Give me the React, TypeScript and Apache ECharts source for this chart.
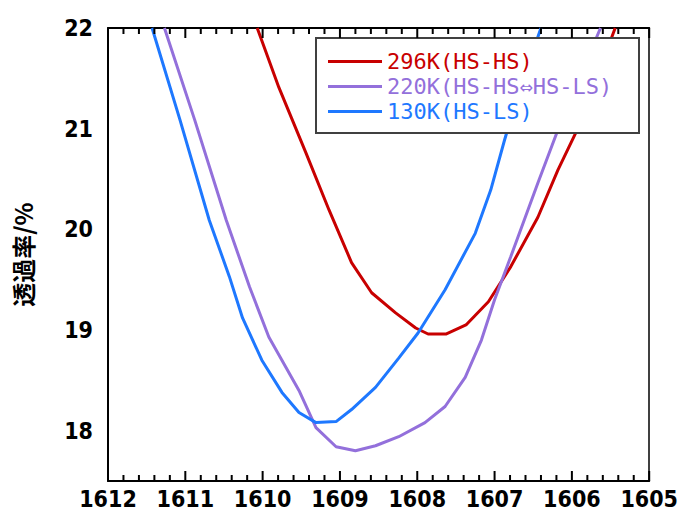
import React, { useEffect, useRef } from "react";
import * as echarts from "echarts";

const seriesNames = ["296K(HS-HS)", "220K(HS-HS⇔HS-LS)", "130K(HS-LS)"];
const seriesColors = ["#C80000", "#9370DB", "#1E78FF"];

const wn296 = [1610.07, 1609.79, 1609.44, 1609.14, 1608.85, 1608.59, 1608.28, 1608.02, 1607.86, 1607.63, 1607.37, 1607.08, 1606.79, 1606.44, 1606.18, 1605.93, 1605.44];
const tr296 = [22.0, 21.41, 20.76, 20.19, 19.67, 19.37, 19.17, 19.02, 18.96, 18.96, 19.05, 19.28, 19.63, 20.12, 20.59, 20.99, 22.0];

const wn220 = [1611.27, 1610.88, 1610.47, 1610.17, 1609.92, 1609.53, 1609.31, 1609.05, 1608.8, 1608.54, 1608.24, 1607.9, 1607.64, 1607.38, 1607.17, 1607.0, 1606.79, 1606.44, 1606.18, 1605.63];
const tr220 = [22.0, 21.09, 20.09, 19.43, 18.93, 18.4, 18.03, 17.84, 17.8, 17.85, 17.94, 18.08, 18.24, 18.53, 18.9, 19.3, 19.73, 20.46, 20.99, 22.0];

const wn130 = [1611.43, 1611.07, 1610.69, 1610.43, 1610.26, 1610.01, 1609.75, 1609.53, 1609.31, 1609.05, 1608.85, 1608.54, 1608.24, 1607.99, 1607.64, 1607.25, 1607.05, 1606.87, 1606.7, 1606.4];
const tr130 = [22.0, 21.09, 20.09, 19.53, 19.12, 18.7, 18.38, 18.18, 18.08, 18.09, 18.21, 18.43, 18.72, 18.97, 19.4, 19.96, 20.39, 20.89, 21.33, 22.0];

const xMin = 1605;
const xMax = 1612;
const yMin = 17.5;
const yMax = 22;
const yAxisName = "透過率/%";
const majorTicks = [1605, 1606, 1607, 1608, 1609, 1610, 1611, 1612];
const minorSteps = [0.2, 0.4, 0.6, 0.8];

const numFont = "'DejaVu Sans Condensed', 'Liberation Sans Narrow', sans-serif";
const legendFont = "'DejaVu Sans Mono', monospace";

export default function App() {
  const ref = useRef<HTMLDivElement>(null);
  useEffect(() => {
    if (!ref.current) return;
    const chart = echarts.init(ref.current, undefined, { renderer: "svg" });
    const pairs = [
      [wn296, tr296],
      [wn220, tr220],
      [wn130, tr130],
    ];
    const tickData: number[][] = [];
    majorTicks.forEach((m, i) => {
      tickData.push([m, 1]);
      if (i < majorTicks.length - 1) minorSteps.forEach((s) => tickData.push([m + s, 0]));
    });
    const xBase = {
      type: "value" as const,
      min: xMin,
      max: xMax,
      interval: 1,
      inverse: true,
      axisLine: { show: true, onZero: false, lineStyle: { color: "#000", width: 2 } },
      splitLine: { show: false },
      axisTick: { show: false },
    };
    chart.setOption({
      animation: false,
      backgroundColor: "#fff",
      grid: {
        left: 108,
        right: 29,
        top: 28,
        bottom: 32,
        show: false,
      },
      xAxis: [
        {
          ...xBase,
          position: "bottom",
          axisLabel: {
            show: true,
            color: "#000",
            fontFamily: numFont,
            fontWeight: "bold",
            fontSize: 23,
            margin: 6,
            formatter: (v: number) => String(v),
          },
        },
        {
          ...xBase,
          position: "top",
          axisLabel: { show: false },
        },
      ],
      yAxis: [
        {
          type: "value",
          min: yMin,
          max: yMax,
          interval: 0.5,
          position: "left",
          axisLine: { show: true, onZero: false, lineStyle: { color: "#000", width: 2 } },
          axisTick: { show: false },
          splitLine: { show: false },
          axisLabel: {
            color: "#000",
            fontFamily: numFont,
            fontWeight: "bold",
            fontSize: 23,
            margin: 15,
            formatter: (v: number) => (Number.isInteger(v) ? String(v) : ""),
          },
          name: yAxisName,
          nameLocation: "middle",
          nameRotate: 90,
          nameGap: 74,
          nameTextStyle: {
            color: "#000",
            fontFamily: "'Noto Sans CJK JP', sans-serif",
            fontWeight: "bold",
            fontSize: 24,
          },
        },
        {
          type: "value",
          min: yMin,
          max: yMax,
          interval: 0.5,
          position: "right",
          axisLine: { show: true, onZero: false, lineStyle: { color: "#000", width: 1.5 } },
          axisTick: { show: false },
          splitLine: { show: false },
          axisLabel: { show: false },
        },
      ],
      legend: {
        orient: "vertical",
        left: 328,
        top: 49,
        padding: 0,
        itemGap: 0,
        itemWidth: 54,
        itemHeight: 3,
        icon: "rect",
        z: 20,
        data: seriesNames.map((n, i) => ({
          name: n,
          textStyle: { color: seriesColors[i] },
        })),
        textStyle: {
          fontFamily: legendFont,
          fontSize: 22,
          lineHeight: 25,
        },
      },
      graphic: [
        {
          type: "rect",
          z: 10,
          shape: { x: 316, y: 38, width: 323, height: 95 },
          style: { fill: "#fff", stroke: "#404040", lineWidth: 2 },
        },
      ],
      series: [
        ...pairs.map((p, i) => ({
          name: seriesNames[i],
          type: "line",
          xAxisIndex: 0,
          yAxisIndex: 0,
          showSymbol: false,
          symbol: "none",
          clip: true,
          data: p[0].map((x, j) => [x, p[1][j]]),
          lineStyle: { color: seriesColors[i], width: 3 },
          itemStyle: { color: seriesColors[i] },
          z: 2,
        })),
        {
          name: "ticks",
          type: "custom",
          xAxisIndex: 0,
          yAxisIndex: 0,
          silent: true,
          clip: false,
          z: 30,
          encode: { x: 0, y: 1 },
          data: tickData,
          renderItem: (params: any, api: any) => {
            const v = api.value(0);
            const major = api.value(1) === 1;
            const b = api.coord([v, yMin]);
            const t = api.coord([v, yMax]);
            const len = major ? 10 : 6;
            const st = { stroke: "#000", lineWidth: 2 };
            return {
              type: "group",
              children: [
                { type: "line", shape: { x1: b[0], y1: b[1], x2: b[0], y2: b[1] - len }, style: st },
                { type: "line", shape: { x1: t[0], y1: t[1], x2: t[0], y2: t[1] + len }, style: st },
              ],
            };
          },
        },
      ],
    });
    return () => chart.dispose();
  }, []);
  return (
    <div
      ref={ref}
      style={{ position: "fixed", left: 0, top: 0, width: 681, height: 513 }}
    />
  );
}
